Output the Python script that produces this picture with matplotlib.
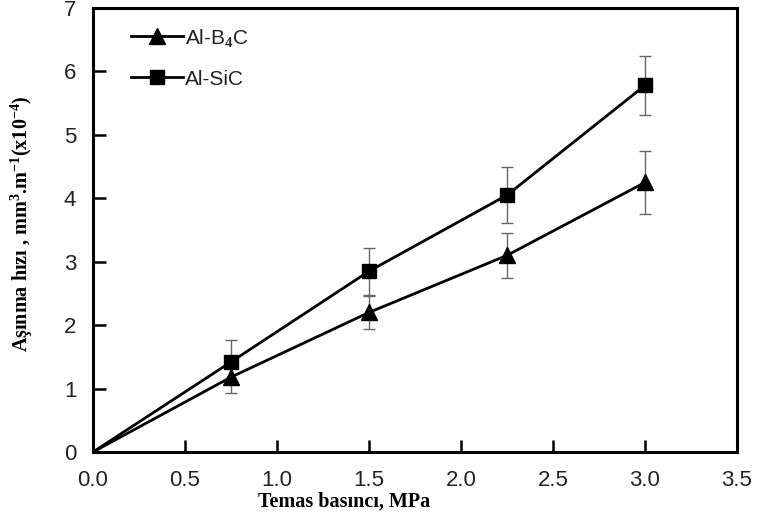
import numpy as np
import matplotlib
matplotlib.use("Agg")
import matplotlib.pyplot as plt

plt.rcParams['mathtext.fontset'] = 'custom'
plt.rcParams['mathtext.rm'] = 'Liberation Serif:bold'
plt.rcParams['mathtext.it'] = 'Liberation Serif:bold'
plt.rcParams['mathtext.bf'] = 'Liberation Serif:bold'

pressure = [0.0, 0.75, 1.5, 2.25, 3.0]
b4c = [0.0, 1.18, 2.2, 3.1, 4.25]
b4c_err = [0.0, 0.25, 0.26, 0.36, 0.5]
sic = [0.0, 1.42, 2.85, 4.05, 5.78]
sic_err = [0.0, 0.35, 0.37, 0.44, 0.47]

fig = plt.figure(figsize=(7.61, 5.22), dpi=100)
ax = fig.add_axes([0.1222, 0.1341, 0.8463, 0.8506])

ax.errorbar(pressure[1:], b4c[1:], yerr=b4c_err[1:], fmt='none', ecolor='#666666',
            elinewidth=1.0, capsize=4, capthick=1.0, zorder=1)
ax.errorbar(pressure[1:], sic[1:], yerr=sic_err[1:], fmt='none', ecolor='#666666',
            elinewidth=1.0, capsize=4, capthick=1.0, zorder=1)
ax.plot(pressure, b4c, color='black', lw=2.0, marker='^', ms=11, markevery=[1, 2, 3, 4],
        label='Al-B$_4$C', zorder=3)
ax.plot(pressure, sic, color='black', lw=2.0, marker='s', ms=10, markevery=[1, 2, 3, 4],
        label='Al-SiC', zorder=3)

ax.set_xlim(0, 3.5)
ax.set_ylim(0, 7)
ax.set_xticks(np.arange(0, 3.51, 0.5))
ax.set_xticklabels(['%.1f' % v for v in np.arange(0, 3.51, 0.5)])
ax.set_yticks(range(8))
ax.tick_params(direction='in', length=9, width=1.8, labelsize=16, labelcolor='#222222')
ax.tick_params(axis='x', pad=13)
ax.tick_params(axis='y', pad=12)
for lab in ax.get_xticklabels() + ax.get_yticklabels():
    lab.set_family('Liberation Sans')
for s in ax.spines.values():
    s.set_linewidth(2.2)

ax.set_xlabel('Temas basıncı, MPa', family='Liberation Serif', weight='bold', fontsize=14.5)
ax.xaxis.set_label_coords(0.39, -0.09)
ax.set_ylabel('Aşınma hızı , mm$^3$.m$^{-1}$(x10$^{-4}$)', family='Liberation Serif',
              weight='bold', fontsize=14.5)
ax.yaxis.set_label_coords(-0.09, 0.515)

leg = ax.legend(loc='upper left', frameon=False, handlelength=2.5, handletextpad=0.1,
                labelspacing=1.0, bbox_to_anchor=(0.03, 1.0),
                prop={'family': 'Liberation Sans', 'size': 15})
for t in leg.get_texts():
    t.set_color('#222222')

fig.savefig('out.png', dpi=100)
